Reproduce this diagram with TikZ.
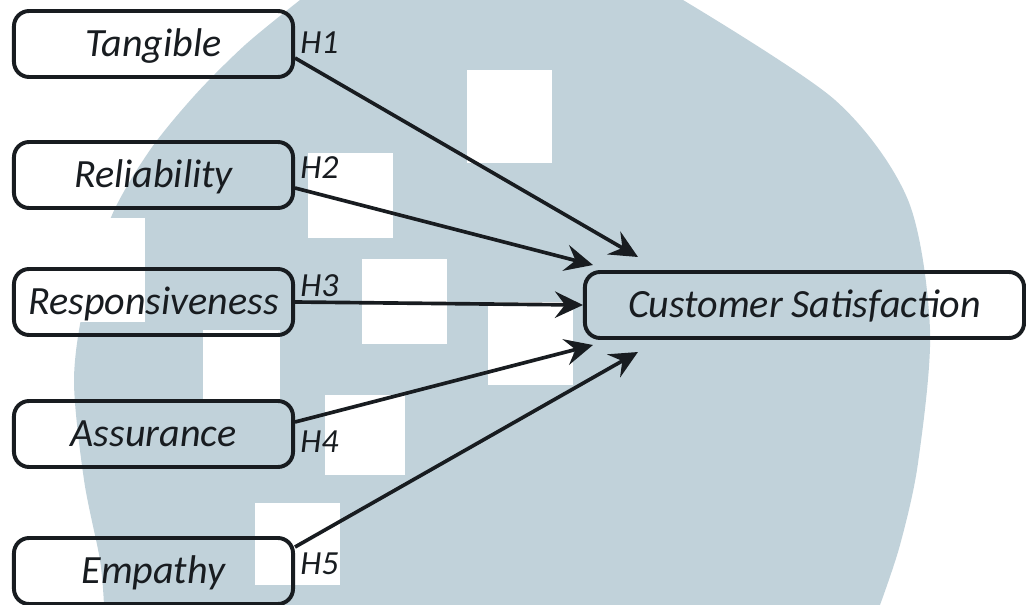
\documentclass[tikz,border=0pt]{standalone}
\usepackage{fontspec}
\setmainfont{Carlito}
\usetikzlibrary{arrows.meta}

\definecolor{wmark}{RGB}{193,210,218}
\definecolor{ink}{RGB}{24,28,32}

\tikzset{
  construct/.style={draw=ink, line width=2.8pt, rounded corners=0.38cm,
    minimum width=6.975cm, minimum height=1.65cm, inner sep=0pt,
    text=ink, font=\fontsize{28.5}{30}\selectfont\itshape,
    text height=0.62cm, text depth=0pt},
  hyp/.style={text=ink, inner sep=0pt, anchor=west,
    font=\fontsize{24}{26}\selectfont\itshape,
    text height=0.52cm, text depth=0pt},
  hline/.style={draw=ink, line width=2.6pt,
    -{Stealth[length=0.7cm, width=0.66cm, inset=0.25cm]}}
}

\begin{document}
\begin{tikzpicture}[x=0.025cm, y=-0.025cm]
  \useasboundingbox (0,0) rectangle (1026,605);

  % watermark in the background
  \begin{scope}
    \clip (0,0) rectangle (1026,605);
    \fill[wmark] (330,-30) -- plot[smooth] coordinates {(300,0) (245,45) (195,95)
      (150,150) (112,215) (85,300) (74,380) (84,480) (100,560) (104,605)}
      -- (104,640) -- (872,640) -- plot[smooth] coordinates {(880,605) (900,545)
      (918,463) (930,330) (908,200) (835,100) (683,0)} -- (655,-30) -- cycle;
    \fill[white] (60,218) rectangle (145,322);
    \fill[white] (467,70) rectangle (552,163);
    \fill[white] (308,153) rectangle (393,238);
    \fill[white] (362,259) rectangle (447,344);
    \fill[white] (488,302) rectangle (573,385);
    \fill[white] (203,330) rectangle (280,402);
    \fill[white] (325,395) rectangle (405,475);
    \fill[white] (255,503) rectangle (340,585);
  \end{scope}

  % constructs
  \node[construct] (tang) at (153.5,44) {Tangible};
  \node[construct] (reli) at (153.5,175) {Reliability};
  \node[construct] (resp) at (153.5,302) {Responsiveness};
  \node[construct] (assu) at (153.5,434) {Assurance};
  \node[construct] (empa) at (153.5,571) {Empathy};
  \node[construct, minimum width=10.975cm] (cs) at (804.5,305) {Customer Satisfaction};

  % hypothesis labels
  \node[hyp] (h1) at ([shift={(5,-1)}]tang.east) {H1};
  \node[hyp] (h2) at ([shift={(5,-7)}]reli.east) {H2};
  \node[hyp] (h3) at ([shift={(5,-16)}]resp.east) {H3};
  \node[hyp] (h4) at ([shift={(5,8)}]assu.east) {H4};
  \node[hyp] (h5) at ([shift={(5,-7)}]empa.east) {H5};

  % arrow ends
  \coordinate (e1) at ([shift={(55,-48)}]cs.west);
  \coordinate (e2) at ([shift={(10,-40)}]cs.west);
  \coordinate (e4) at ([shift={(10,40)}]cs.west);
  \coordinate (e5) at ([shift={(55,47)}]cs.west);

  \begin{scope}[hline]
    \draw ([shift={(0,14)}]tang.east) -- (e1);
    \draw ([shift={(0,13)}]reli.east) -- (e2);
    \draw (resp.east) -- (cs.west);
    \draw ([shift={(0,-12)}]assu.east) -- (e4);
    \draw ([shift={(0,-24)}]empa.east) -- (e5);
  \end{scope}
\end{tikzpicture}
\end{document}
